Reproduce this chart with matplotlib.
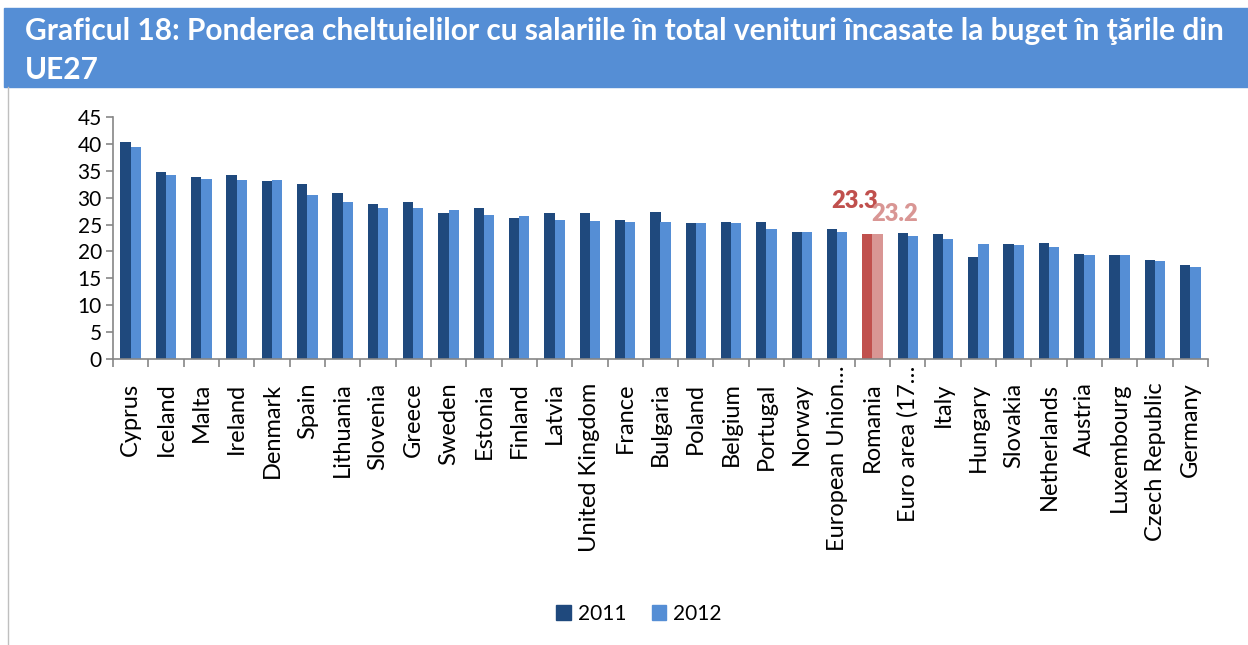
import numpy as np
import matplotlib
matplotlib.use("Agg")
import matplotlib.pyplot as plt
from matplotlib.patches import Rectangle
from matplotlib.lines import Line2D
from matplotlib.transforms import ScaledTranslation

# data
countries = [
    "Cyprus", "Iceland", "Malta", "Ireland", "Denmark", "Spain", "Lithuania",
    "Slovenia", "Greece", "Sweden", "Estonia", "Finland", "Latvia",
    "United Kingdom", "France", "Bulgaria", "Poland", "Belgium", "Portugal",
    "Norway", "European Union…", "Romania", "Euro area (17…", "Italy",
    "Hungary", "Slovakia", "Netherlands", "Austria", "Luxembourg",
    "Czech Republic", "Germany",
]
vals_2011 = [40.3, 34.8, 33.8, 34.3, 33.1, 32.5, 30.9, 28.8, 29.2, 27.2, 28.1,
             26.3, 27.2, 27.2, 25.9, 27.4, 25.3, 25.5, 25.4, 23.6, 24.2, 23.3,
             23.4, 23.2, 19.0, 21.4, 21.6, 19.5, 19.3, 18.4, 17.4]
vals_2012 = [39.5, 34.3, 33.4, 33.3, 33.2, 30.5, 29.2, 28.0, 28.0, 27.7, 26.8,
             26.6, 25.9, 25.6, 25.5, 25.5, 25.3, 25.2, 24.2, 23.7, 23.6, 23.2,
             22.8, 22.3, 21.3, 21.2, 20.9, 19.3, 19.3, 18.2, 17.1]
years = ["2011", "2012"]
highlight = "Romania"

DARK = "#1F497D"
LIGHT = "#558ED5"
RED = "#C0504D"
PINK = "#D99694"
AXIS = "#868686"
FONT = "Lato"

plt.rcParams["font.family"] = [FONT, "DejaVu Sans"]

fig = plt.figure(figsize=(12.48, 6.45), dpi=100)
W, H = 1248, 645

# title banner
fig.add_artist(Rectangle((4 / W, 1 - 87 / H), 1 - 4 / W, 79 / H,
                         transform=fig.transFigure, color=LIGHT, zorder=0))
fig.text(25 / W, 1 - 31 / H,
         "Graficul 18: Ponderea cheltuielilor cu salariile în total venituri încasate la buget în ţările din",
         color="white", fontsize=21.5, fontweight="bold", va="center", ha="left")
fig.text(25 / W, 1 - 70 / H, "UE27", color="white", fontsize=21.5,
         fontweight="bold", va="center", ha="left")
fig.add_artist(Line2D([8 / W, 8 / W], [0, 1 - 87 / H], transform=fig.transFigure,
                      color="#BFBFBF", linewidth=1))

ax = fig.add_axes([113 / W, 1 - 359 / H, (1208 - 113) / W, (359 - 117) / H])

x = np.arange(len(countries))
bw = 0.29
c11 = [RED if c == highlight else DARK for c in countries]
c12 = [PINK if c == highlight else LIGHT for c in countries]
ax.bar(x - bw / 2, vals_2011, bw, color=c11, label=years[0], zorder=2)
ax.bar(x + bw / 2, vals_2012, bw, color=c12, label=years[1], zorder=2)

# value labels for Romania
i = countries.index(highlight)
ax.text(x[i] - 0.52, 29.4, f"{vals_2011[i]:.1f}", color=RED,
        fontsize=17, fontweight="heavy", ha="center", va="center")
ax.text(x[i] + 0.64, 27.0, f"{vals_2012[i]:.1f}", color=PINK,
        fontsize=17, fontweight="heavy", ha="center", va="center")

ax.set_xlim(-0.5, len(countries) - 0.5)
ax.set_ylim(0, 45)
ax.set_yticks(np.arange(0, 46, 5))
ax.tick_params(axis="y", labelsize=15, colors=AXIS, labelcolor="black",
               length=5, width=1.2, pad=3)
ax.set_xticks(x)
ax.set_xticklabels(countries, rotation=90, fontsize=17)
ax.tick_params(axis="x", length=0, pad=17)
ax.set_xticks(np.arange(-0.5, len(countries), 1), minor=True)
ax.tick_params(axis="x", which="minor", length=6, width=1.2, colors=AXIS)

# truncated labels sit closer to the axis
for lab in ax.get_xticklabels():
    if lab.get_text().endswith("…"):
        lab.set_transform(lab.get_transform() + ScaledTranslation(0, 17 / 100, fig.dpi_scale_trans))

for s in ["top", "right"]:
    ax.spines[s].set_visible(False)
for s in ["left", "bottom"]:
    ax.spines[s].set_color(AXIS)
    ax.spines[s].set_linewidth(1.2)

handles = [Rectangle((0, 0), 1, 1, color=DARK), Rectangle((0, 0), 1, 1, color=LIGHT)]
fig.legend(handles, years, loc="center", bbox_to_anchor=(639 / W, 1 - 614 / H),
           ncol=2, frameon=False, fontsize=15, handlelength=0.7, handleheight=0.7,
           handletextpad=0.35, columnspacing=1.2)

fig.savefig("out.png", dpi=100)
